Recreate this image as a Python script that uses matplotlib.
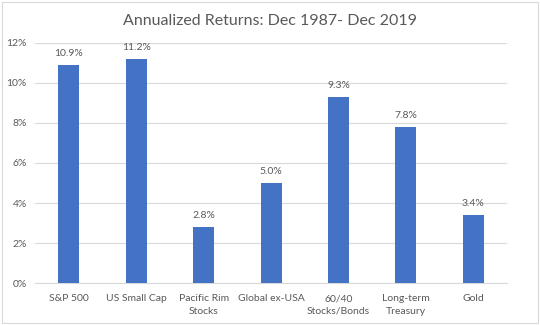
import matplotlib.pyplot as plt
from matplotlib.patches import Rectangle
from matplotlib.ticker import FuncFormatter

categories = ["S&P 500", "US Small Cap", "Pacific Rim\nStocks", "Global ex-USA",
              "60/40\nStocks/Bonds", "Long-term\nTreasury", "Gold"]
returns = [10.9, 11.2, 2.8, 5.0, 9.3, 7.8, 3.4]
yticks = [0, 2, 4, 6, 8, 10, 12]

plt.rcParams['font.family'] = ['Lato', 'DejaVu Sans']
txt = "#595959"

fig = plt.figure(figsize=(5.4, 3.25), dpi=100)
ax = fig.add_axes([0.065, 0.129, 0.874, 0.739])

x = range(len(categories))
ax.bar(x, returns, width=0.31, color="#4472C4", zorder=3)
for i, v in zip(x, returns):
    ax.text(i, v + 0.35, f"{v:.1f}%", ha="center", va="bottom", fontsize=7.5, color=txt)

ax.set_xlim(-0.5, len(categories) - 0.5)
ax.set_ylim(0, 12)
ax.set_yticks(yticks)
ax.yaxis.set_major_formatter(FuncFormatter(lambda v, p: f"{v:.0f}%"))
ax.set_xticks(list(x))
ax.set_xticklabels(categories, fontsize=7.5, color=txt, linespacing=1.5)
ax.tick_params(axis="y", labelsize=7.5, labelcolor=txt, length=0, pad=6)
ax.tick_params(axis="x", length=0, pad=8)
ax.grid(axis="y", color="#D9D9D9", linewidth=0.8, zorder=0)
for s in ["top", "right", "left"]:
    ax.spines[s].set_visible(False)
ax.spines["bottom"].set_color("#D9D9D9")

fig.text(0.5, 0.935, "Annualized Returns: Dec 1987- Dec 2019", ha="center", va="center",
         fontsize=11.5, color=txt)
fig.patches.append(Rectangle((0.004, 0.006), 0.992, 0.988, transform=fig.transFigure,
                             fill=False, edgecolor="#D9D9D9", linewidth=0.8))

fig.savefig("out.png", dpi=100)
